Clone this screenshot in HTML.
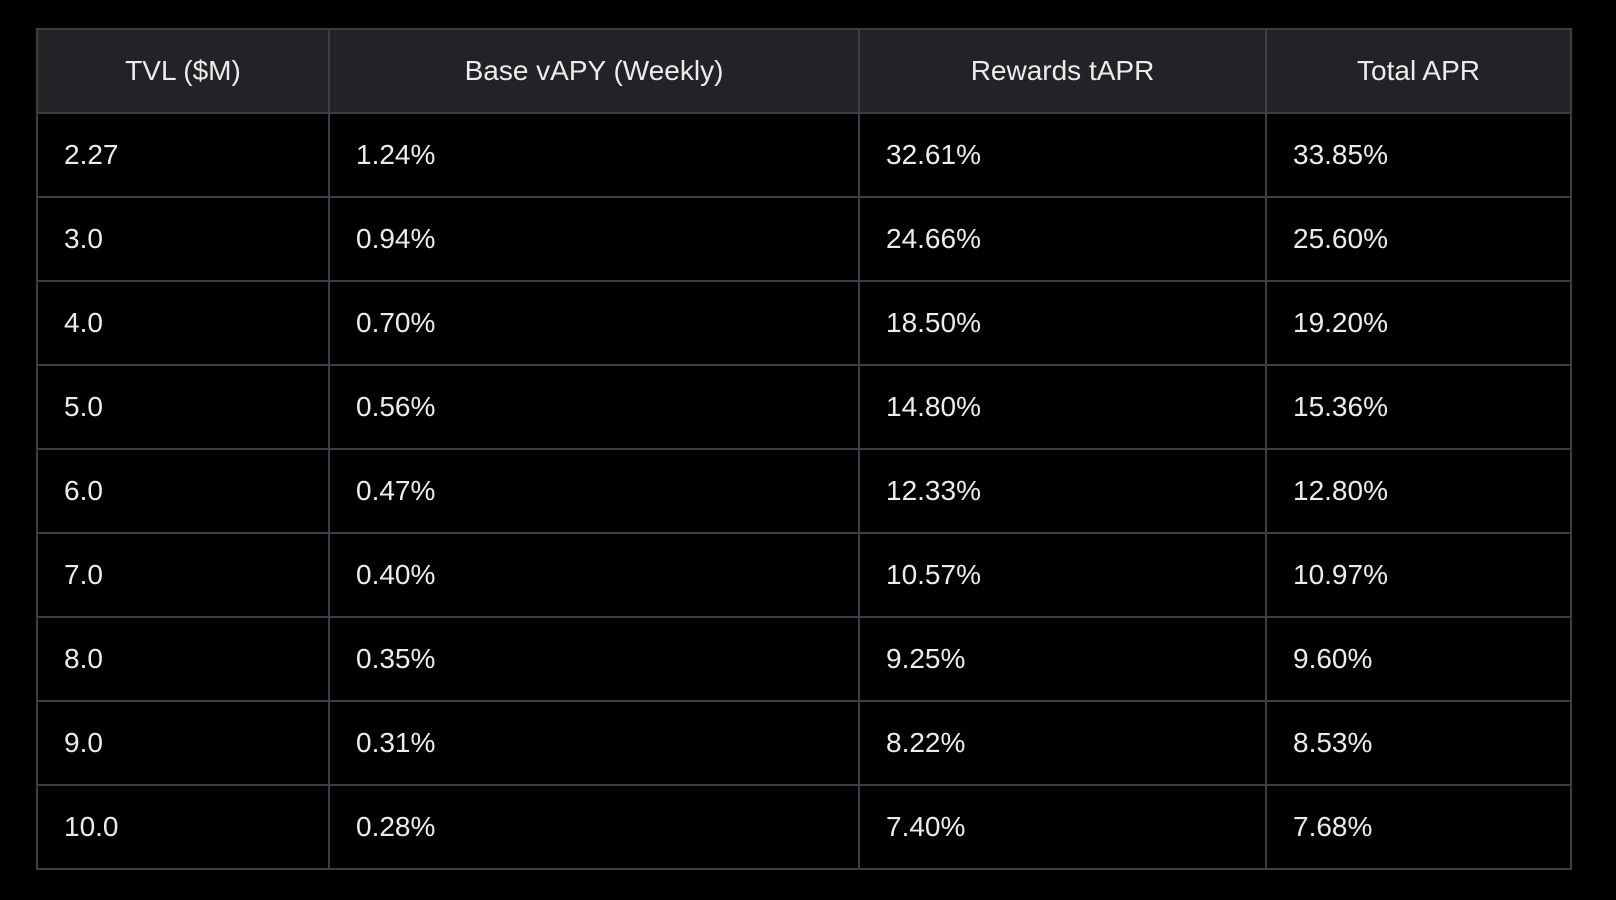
<!DOCTYPE html>
<html><head><meta charset="utf-8"><style>
html,body{margin:0;padding:0;background:#000;width:1616px;height:900px;overflow:hidden}
table{position:absolute;left:36px;top:28px;border-collapse:collapse;font-family:"Liberation Sans",sans-serif;font-size:28px;color:#ececec}
td,th{border:2px solid #3d3e43;padding:0 0 0 26px;height:82px;text-align:left;font-weight:normal}
th{background:#222327;text-align:center;padding:0}
</style></head><body>
<table>
<colgroup><col style="width:292px"><col style="width:530px"><col style="width:407px"><col style="width:305px"></colgroup>
<thead><tr>
<th>TVL ($M)</th>
<th>Base vAPY (Weekly)</th>
<th>Rewards tAPR</th>
<th>Total APR</th></tr></thead>
<tbody id="tb"></tbody>
</table>
<script>
const tvl=["2.27","3.0","4.0","5.0","6.0","7.0","8.0","9.0","10.0"];
const base=["1.24%","0.94%","0.70%","0.56%","0.47%","0.40%","0.35%","0.31%","0.28%"];
const rewards=["32.61%","24.66%","18.50%","14.80%","12.33%","10.57%","9.25%","8.22%","7.40%"];
const total=["33.85%","25.60%","19.20%","15.36%","12.80%","10.97%","9.60%","8.53%","7.68%"];
const tb=document.getElementById('tb');
const names=["tvl-cell","base-vapy-cell","rewards-tapr-cell","total-apr-cell"];
for(let i=0;i<tvl.length;i++){
 const tr=document.createElement('tr');
 
 
 [tvl[i],base[i],rewards[i],total[i]].forEach((v,j)=>{
  const td=document.createElement('td');
  
  
  td.textContent=v;tr.appendChild(td);
 });
 tb.appendChild(tr);
}
</script>
</body></html>
